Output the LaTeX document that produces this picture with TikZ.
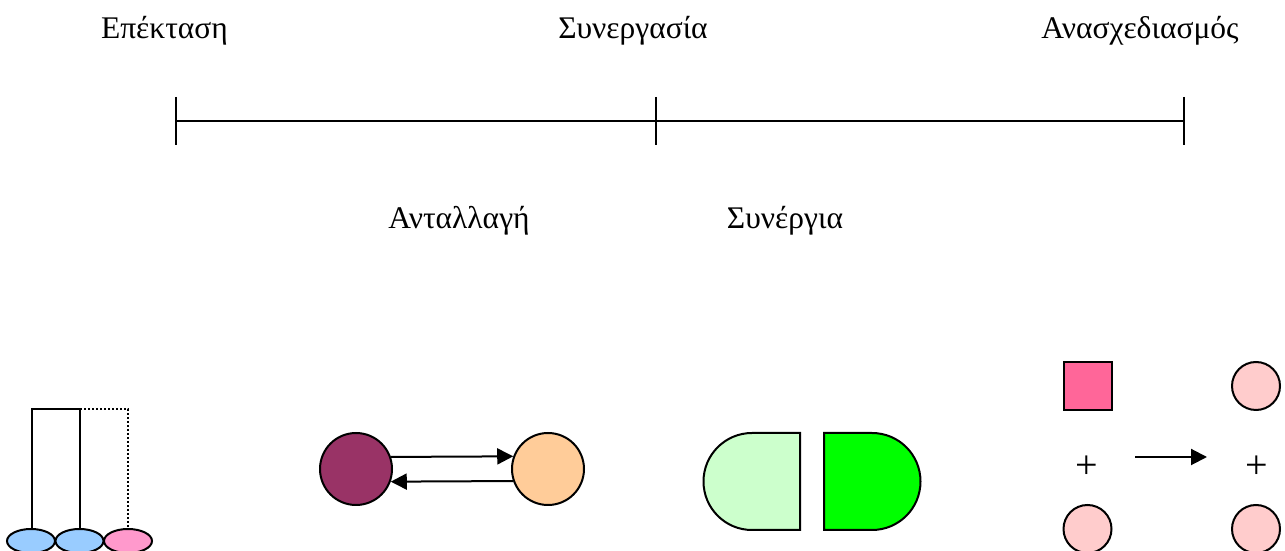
\documentclass[tikz,border=0pt]{standalone}
\usepackage{fontspec}
\setmainfont{Liberation Serif}
\usetikzlibrary{arrows.meta,shapes.geometric}
\definecolor{plum}{HTML}{993366}
\definecolor{peach}{HTML}{FFCC99}
\definecolor{mint}{HTML}{CCFFCC}
\definecolor{lime}{HTML}{00FF00}
\definecolor{rose}{HTML}{FF6699}
\definecolor{blush}{HTML}{FFCCCC}
\definecolor{sky}{HTML}{99CCFF}
\definecolor{pinkish}{HTML}{FF99CC}
\begin{document}
\begin{tikzpicture}[x=1pt,y=1pt,
  lbl/.style={font=\fontsize{31.5}{36}\selectfont, anchor=base, inner sep=0pt},
  pls/.style={font=\fontsize{40}{44}\selectfont, inner sep=0pt},
  ln/.style={line width=2pt},
  ball/.style={circle, draw, line width=2pt, inner sep=0pt},
  foot/.style={ellipse, draw, line width=2pt, minimum width=48pt, minimum height=24pt, inner sep=0pt},
  arr/.style={line width=2pt, -{Triangle[length=16pt,width=16pt]}}]
\useasboundingbox (0,0) rectangle (1285,551);
% titles
\node[lbl] (t1) at (164.5,512) {Επέκταση};
\node[lbl] (t2) at (633,512) {Συνεργασία};
\node[lbl] (t3) at (1140,512) {Ανασχεδιασμός};
\node[lbl] (t4) at (459,322) {Ανταλλαγή};
\node[lbl] (t5) at (785,322) {Συνέργια};
% timeline
\coordinate (a) at (176,430);
\coordinate (b) at (656,430);
\coordinate (c) at (1184,430);
\draw[ln] (a) -- (c);
\foreach \p in {a,b,c} \draw[ln] ([yshift=24pt]\p) -- ([yshift=-24pt]\p);
% extension
\node[foot, fill=sky] (e1) at (31,10) {};
\node[foot, fill=sky] (e2) at (79.5,10) {};
\node[foot, fill=pinkish] (e3) at (128,10) {};
\draw[ln] (32,22) -- (32,142) -- (80,142) -- (80,22);
\draw[line width=2pt, dotted] (80,142) -- (128,142) -- (128,22);
% exchange
\node[ball, fill=plum, minimum size=72pt] (p) at (356,82) {};
\node[ball, fill=peach, minimum size=72pt] (o) at (548,82) {};
\draw[arr] (p.19.5) -- (o.160.5);
\draw[arr] (o.199.5) -- (p.340.5);
% synergy
\draw[ln, fill=mint] (800,118) -- (752,118) arc[start angle=90, end angle=270, radius=48.5] -- (800,21) -- cycle;
\draw[ln, fill=lime] (824,118) -- (872,118) arc[start angle=90, end angle=-90, radius=48.5] -- (824,21) -- cycle;
% redesign
\node[draw, line width=2pt, fill=rose, minimum size=48pt, inner sep=0pt] (sq) at (1087.5,165) {};
\node[ball, fill=blush, minimum size=48pt] (c1) at (1256,165) {};
\node[ball, fill=blush, minimum size=48pt] (c2) at (1087.5,22) {};
\node[ball, fill=blush, minimum size=48pt] (c3) at (1256,22) {};
\node[pls] (pl1) at (1087,84) {+};
\node[pls] (pl2) at (1257,84) {+};
\coordinate (r1) at (1135,94);
\coordinate (r2) at (1207,94);
\draw[arr] (r1) -- (r2);
\end{tikzpicture}
\end{document}
